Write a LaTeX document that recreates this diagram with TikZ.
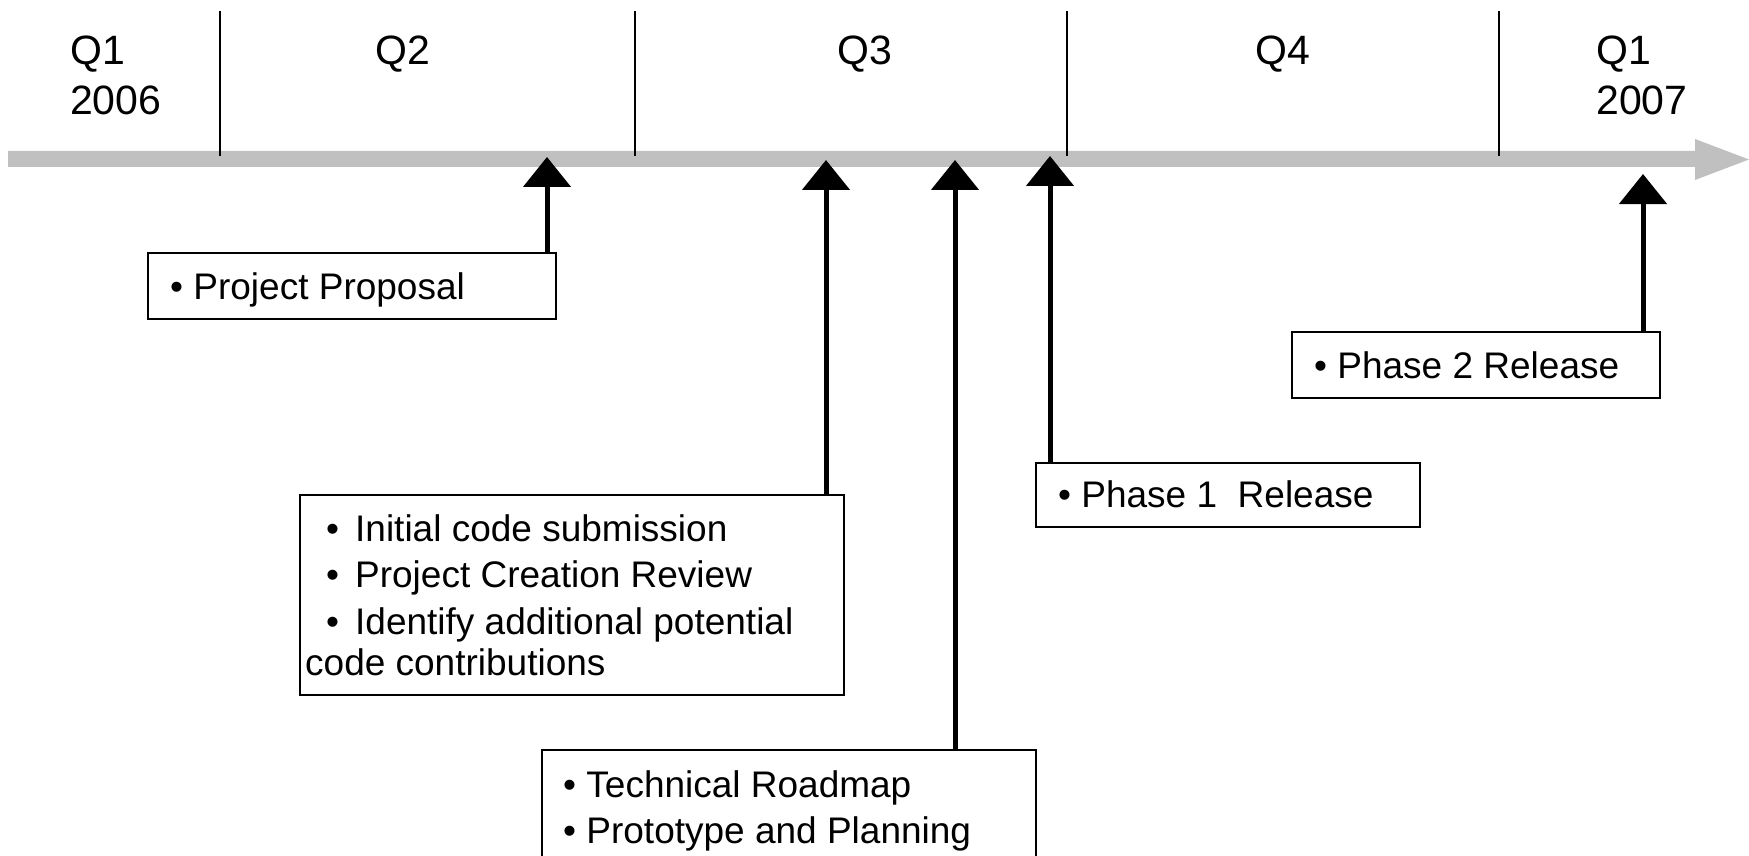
\documentclass[tikz,border=0pt]{standalone}
\usepackage{fontspec}
\setmainfont{Liberation Sans}
\usetikzlibrary{arrows.meta}
\definecolor{barc}{RGB}{192,192,192}
\begin{document}
\begin{tikzpicture}[x=1pt,y=-1pt,
  every node/.style={inner sep=0pt, font=\fontsize{37}{46.5}\selectfont},
  qlab/.style={anchor=base west, font=\fontsize{41}{50}\selectfont},
  mbox/.style={draw=black, line width=1.6pt, anchor=north west},
  mtext/.style={anchor=base west},
  div/.style={line width=1.6pt},
  ms/.style={line width=5pt, -{Triangle[width=47pt,length=30pt]}}]
\useasboundingbox (0,0) rectangle (1749,856);
\fill[white] (0,0) rectangle (1749,856);
% timeline bar
\fill[barc] (8,151) -- (1695,151) -- (1695,139) -- (1749,159.5) -- (1695,180) -- (1695,167) -- (8,167) -- cycle;
% quarter dividers
\draw[div] (220,11) -- (220,156);
\draw[div] (635,11) -- (635,156);
\draw[div] (1067,11) -- (1067,156);
\draw[div] (1499,11) -- (1499,156);
% quarter labels
\node[qlab] (q1) at (70,65) {\begin{tabular}[t]{@{}l@{}}Q1\\2006\end{tabular}};
\node[qlab] (q2) at (375,65) {Q2};
\node[qlab] (q3) at (837,65) {Q3};
\node[qlab] (q4) at (1255,65) {Q4};
\node[qlab] (q5) at (1596,65) {\begin{tabular}[t]{@{}l@{}}Q1\\2007\end{tabular}};
% milestone boxes
\node[mbox, minimum width=408pt, minimum height=66pt] (b1) at (147,252) {};
\node[mbox, minimum width=544pt, minimum height=200pt] (b2) at (299,494) {};
\node[mbox, minimum width=494pt, minimum height=140pt] (b3) at (541,749) {};
\node[mbox, minimum width=384pt, minimum height=64pt] (b4) at (1035,462) {};
\node[mbox, minimum width=368pt, minimum height=66pt] (b5) at (1291,331) {};
% texts
\node[mtext] (p1) at (170,299) {• Project Proposal};
\node[mtext] (p2) at (326,541) {\begin{tabular}[t]{@{}l@{}}\makebox[29pt][l]{•}Initial code submission\\ \makebox[29pt][l]{•}Project Creation Review\\ \makebox[29pt][l]{•}Identify additional potential\\[-5pt] \hspace*{-21pt}code contributions\end{tabular}};
\node[mtext] (p3) at (563,797) {\begin{tabular}[t]{@{}l@{}}• Technical Roadmap\\ • Prototype and Planning\end{tabular}};
\node[mtext] (p4) at (1058,507) {• Phase 1\ \ Release};
\node[mtext] (p5) at (1314,378) {• Phase 2 Release};
% arrow tips on the timeline
\coordinate (t1) at (547,157);
\coordinate (t2) at (826,160);
\coordinate (t3) at (955,160);
\coordinate (t4) at (1050,156);
\coordinate (t5) at (1643,174);
\draw[ms] (b1.north -| t1) -- (t1);
\draw[ms] (b2.north -| t2) -- (t2);
\draw[ms] (b3.north -| t3) -- (t3);
\draw[ms] (b4.north -| t4) -- (t4);
\draw[ms] (b5.north -| t5) -- (t5);
\end{tikzpicture}
\end{document}
